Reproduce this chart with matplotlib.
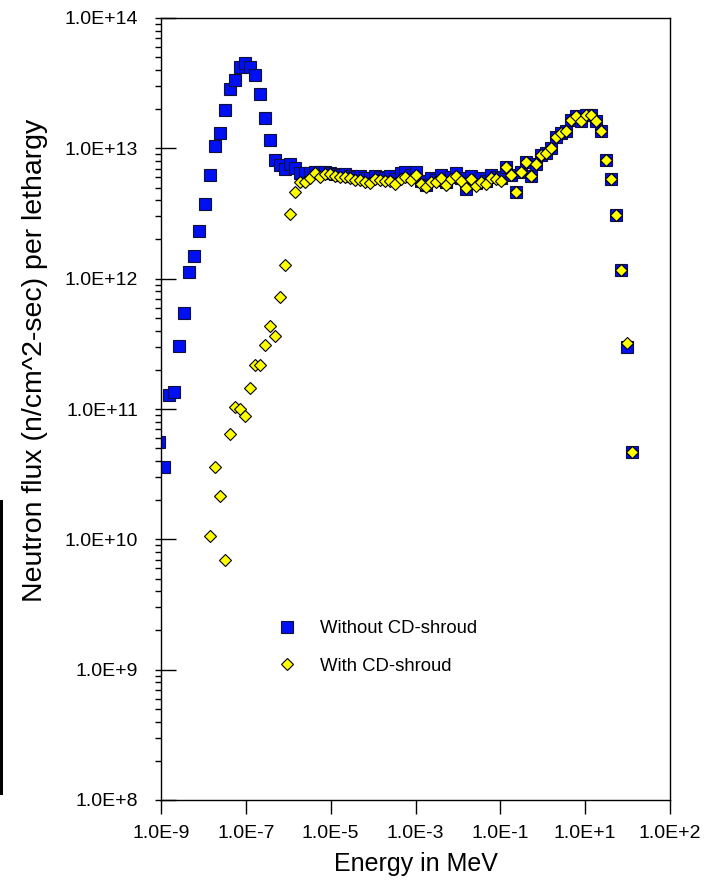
import numpy as np
import matplotlib
matplotlib.use("Agg")
import matplotlib.pyplot as plt
from matplotlib.ticker import LogLocator, NullFormatter, NullLocator, FixedLocator, FixedFormatter
from matplotlib.patches import Rectangle

plt.rcParams['font.family'] = ['Liberation Sans', 'DejaVu Sans']

# energia em MeV (mesma grade para as duas series)
energy = [9.19e-10, 1.18e-9, 1.51e-9, 1.95e-9, 2.50e-9, 3.21e-9, 4.12e-9, 5.29e-9, 6.79e-9, 8.72e-9,
          1.12e-8, 1.44e-8, 1.85e-8, 2.37e-8, 3.04e-8, 3.91e-8, 5.02e-8, 6.44e-8, 8.27e-8, 1.06e-7,
          1.36e-7, 1.75e-7, 2.25e-7, 2.89e-7, 3.71e-7, 4.76e-7, 6.11e-7, 7.85e-7, 1.01e-6, 1.29e-6,
          1.66e-6, 2.13e-6, 2.74e-6, 3.52e-6, 4.52e-6, 5.80e-6, 7.44e-6, 9.56e-6, 1.23e-5, 1.58e-5,
          2.02e-5, 2.60e-5, 3.34e-5, 4.28e-5, 5.50e-5, 7.06e-5, 9.07e-5, 1.16e-4, 1.50e-4, 1.92e-4,
          2.47e-4, 3.17e-4, 4.06e-4, 5.22e-4, 6.70e-4, 8.60e-4, 1.10e-3, 1.42e-3, 1.82e-3, 2.34e-3,
          3.00e-3, 3.86e-3, 4.95e-3, 6.36e-3, 8.16e-3, 1.05e-2, 1.35e-2, 1.73e-2, 2.22e-2, 2.85e-2,
          3.66e-2, 4.70e-2, 6.03e-2, 7.74e-2, 9.94e-2, 1.28e-1, 1.64e-1, 2.10e-1, 2.70e-1, 3.47e-1,
          4.46e-1, 5.72e-1, 7.35e-1, 9.43e-1, 1.21, 1.55, 2.00, 2.56, 3.29, 4.23,
          5.43, 6.97, 8.95, 11.5, 14.8]

# fluxo sem o shroud de cadmio
flux_without = [5.62e10, 3.61e10, 1.27e11, 1.34e11, 3.03e11, 5.50e11, 1.12e12, 1.50e12, 2.34e12, 3.73e12,
                6.26e12, 1.04e13, 1.30e13, 1.96e13, 2.85e13, 3.37e13, 4.20e13, 4.51e13, 4.20e13, 3.68e13,
                2.62e13, 1.72e13, 1.16e13, 8.16e12, 7.47e12, 6.92e12, 7.60e12, 7.05e12, 6.52e12,
                6.49e12, 6.49e12, 6.64e12, 6.60e12, 6.55e12, 6.49e12, 6.34e12, 6.26e12, 6.34e12, 6.15e12,
                6.04e12, 6.15e12, 5.94e12, 5.94e12, 6.15e12, 6.04e12, 5.94e12, 6.15e12, 5.83e12, 6.49e12,
                6.60e12, 6.26e12, 6.60e12, 5.62e12, 5.20e12, 5.94e12, 5.73e12, 6.26e12, 5.52e12, 6.04e12,
                6.49e12, 5.94e12, 4.89e12, 6.15e12, 5.43e12, 5.94e12, 5.62e12, 6.26e12, 6.04e12, 5.94e12,
                7.25e12, 6.21e12, 4.61e12, 6.60e12, 7.92e12, 6.15e12, 7.58e12, 8.91e12, 9.19e12, 1.00e13,
                1.23e13, 1.31e13, 1.35e13, 1.66e13, 1.78e13, 1.63e13, 1.81e13, 1.81e13, 1.63e13, 1.37e13,
                8.20e12, 5.85e12, 3.09e12, 1.16e12, 3.00e11, 4.71e10]

# fluxo com o shroud (comeca no 11o ponto da grade)
flux_with = [1.07e10, 3.57e10, 2.15e10, 6.98e9, 6.44e10, 1.04e11, 9.96e10, 8.85e10, 1.44e11, 2.17e11,
             2.17e11, 3.09e11, 4.32e11, 3.62e11, 7.18e11, 1.28e12, 3.13e12, 4.66e12, 5.47e12, 5.47e12,
             5.90e12, 6.45e12, 6.01e12, 6.34e12, 6.34e12, 6.08e12, 6.01e12, 6.01e12, 5.90e12, 5.73e12,
             5.73e12, 5.56e12, 5.43e12, 5.78e12, 5.68e12, 5.59e12, 5.62e12, 5.34e12, 5.83e12, 6.04e12,
             5.73e12, 6.21e12, 5.34e12, 5.09e12, 5.48e12, 5.52e12, 5.94e12, 5.27e12, 5.80e12, 6.12e12,
             5.62e12, 5.00e12, 5.85e12, 5.15e12, 5.56e12, 5.34e12, 5.94e12, 5.85e12, 5.65e12, 7.25e12,
             6.21e12, 4.61e12, 6.60e12, 7.92e12, 6.15e12, 7.58e12, 8.91e12, 9.19e12, 1.00e13, 1.23e13,
             1.31e13, 1.35e13, 1.66e13, 1.78e13, 1.63e13, 1.81e13, 1.81e13, 1.63e13, 1.37e13, 8.20e12,
             5.85e12, 3.09e12, 1.16e12, 3.20e11, 4.71e10]
energy_with = energy[len(energy) - len(flux_with):]

x_tick_labels = ["1.0E-9", "1.0E-7", "1.0E-5", "1.0E-3", "1.0E-1", "1.0E+1", "1.0E+2"]
y_ticks = [1e8, 1e9, 1e10, 1e11, 1e12, 1e13, 1e14]
y_tick_labels = ["1.0E+8", "1.0E+9", "1.0E+10", "1.0E+11", "1.0E+12", "1.0E+13", "1.0E+14"]

fig = plt.figure(figsize=(7.15, 8.85), dpi=100)
ax = fig.add_axes([161 / 715, 1 - 800 / 885, 509 / 715, 782 / 885])

ax.plot(energy, flux_without, ls='none', marker='s', ms=8.0, mfc='#0010f2', mec='#10103a', mew=0.8,
        label='Without CD-shroud')
ax.plot(energy_with, flux_with, ls='none', marker='D', ms=5.7, mfc='#ffff00', mec='black', mew=0.8,
        label='With CD-shroud')

ax.set_xscale('log')
ax.set_yscale('log')
ax.set_xlim(1e-9, 1e2)
ax.set_ylim(1e8, 1e14)

# os rotulos do eixo x ficam igualmente espacados, como no original
ax.xaxis.set_major_locator(FixedLocator(np.logspace(-9, 2, len(x_tick_labels))))
ax.xaxis.set_major_formatter(FixedFormatter(x_tick_labels))
ax.xaxis.set_minor_locator(NullLocator())

ax.yaxis.set_major_locator(FixedLocator(y_ticks))
ax.yaxis.set_major_formatter(FixedFormatter(y_tick_labels))
ax.yaxis.set_minor_locator(LogLocator(base=10, subs=np.arange(1, 10)))
ax.yaxis.set_minor_formatter(NullFormatter())
ax.yaxis.remove_overlapping_locs = False

ax.tick_params(axis='x', which='major', direction='out', length=10, width=1, labelsize=14, pad=8)
ax.tick_params(axis='y', which='major', direction='in', length=11, width=1, labelsize=14, pad=16.3)
ax.tick_params(axis='y', which='minor', direction='out', length=4, width=1)

for s in ax.spines.values():
    s.set_linewidth(1.0)

ax.set_xlabel("Energy in MeV", fontsize=18)
ax.xaxis.set_label_coords(0.5, -0.067)
ax.set_ylabel("Neutron flux (n/cm^2-sec) per lethargy", fontsize=20.5, ha='left')
ax.yaxis.set_label_coords(-0.222, 0.253)

ax.legend(loc='upper left', bbox_to_anchor=(0.211, 0.2417), frameon=False, fontsize=13.3,
          handlelength=1.0, handletextpad=1.3, labelspacing=1.1, borderpad=0, numpoints=1)

# barra preta na borda esquerda da imagem original
fig.add_artist(Rectangle((0, 1 - 795 / 885), 3.3 / 715, 295 / 885, transform=fig.transFigure,
                         facecolor='black', edgecolor='none'))

plt.savefig("out.png", dpi=100)
